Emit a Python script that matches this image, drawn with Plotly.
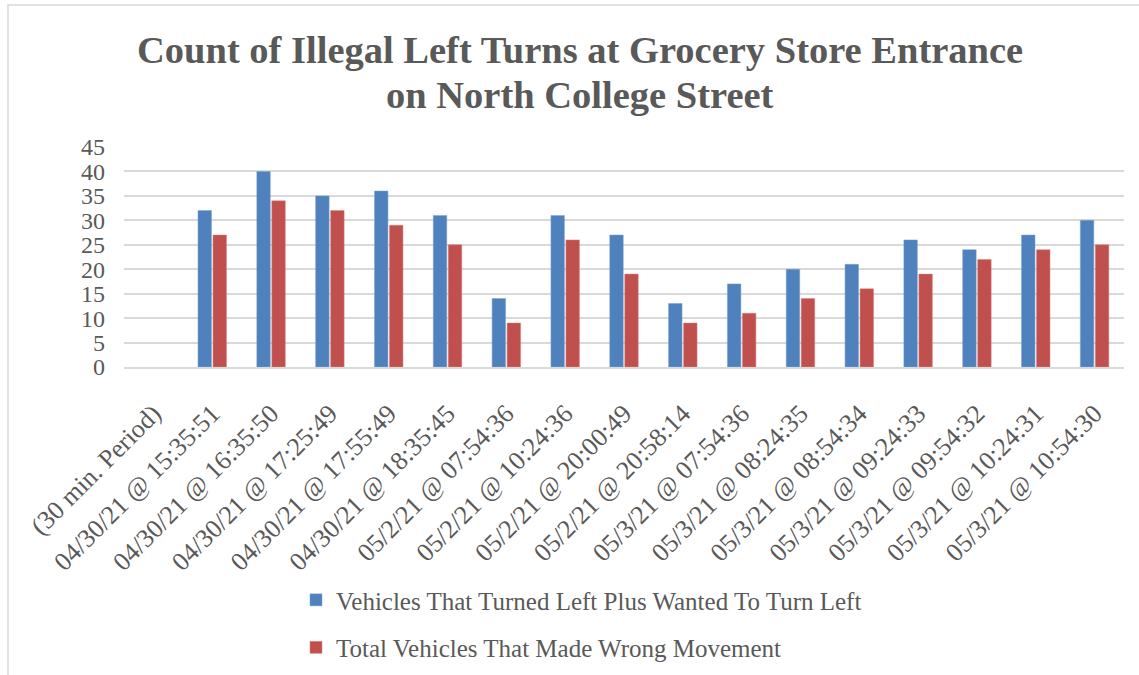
import plotly.graph_objects as go

categories = ["(30 min. Period)", "04/30/21 @ 15:35:51", "04/30/21 @ 16:35:50", "04/30/21 @ 17:25:49",
              "04/30/21 @ 17:55:49", "04/30/21 @ 18:35:45", "05/2/21 @ 07:54:36", "05/2/21 @ 10:24:36",
              "05/2/21 @ 20:00:49", "05/2/21 @ 20:58:14", "05/3/21 @ 07:54:36", "05/3/21 @ 08:24:35",
              "05/3/21 @ 08:54:34", "05/3/21 @ 09:24:33", "05/3/21 @ 09:54:32", "05/3/21 @ 10:24:31",
              "05/3/21 @ 10:54:30"]
turned_or_wanted = [None, 32, 40, 35, 36, 31, 14, 31, 27, 13, 17, 20, 21, 26, 24, 27, 30]
wrong_movement = [None, 27, 34, 32, 29, 25, 9, 26, 19, 9, 11, 14, 16, 19, 22, 24, 25]
y_ticks = [0, 5, 10, 15, 20, 25, 30, 35, 40, 45]
title_lines = ["Count of Illegal Left Turns at Grocery Store Entrance", "on North College Street"]

FONT = "Liberation Serif"
TXT = "#595959"
GRID = "#D9D9D9"

fig = go.Figure()
fig.add_trace(go.Bar(x=categories, y=turned_or_wanted, name="Vehicles That Turned Left Plus Wanted To Turn Left",
                     marker=dict(color="#4F81BD", line=dict(color="#7FA3D0", width=0.5)), legendgroup="a"))
fig.add_trace(go.Bar(x=categories, y=wrong_movement, name="Total Vehicles That Made Wrong Movement",
                     marker=dict(color="#C0504D", line=dict(color="#D88380", width=0.5)), legendgroup="b"))

# title as two centred lines
fig.add_annotation(text=title_lines[0], xref="paper", yref="paper", x=0.456, y=(367 - 50) / 220,
                   xanchor="center", yanchor="middle", showarrow=False,
                   font=dict(family=FONT, size=38.5, color=TXT, weight="bold"))
fig.add_annotation(text=title_lines[1], xref="paper", yref="paper", x=0.456, y=(367 - 95) / 220,
                   xanchor="center", yanchor="middle", showarrow=False,
                   font=dict(family=FONT, size=38.5, color=TXT, weight="bold"))

# chart-area border
fig.add_shape(type="rect", xref="paper", yref="paper", x0=(8 - 124) / 1000, x1=(1150 - 124) / 1000,
              y0=(367 - 5) / 220, y1=(367 - 690) / 220, line=dict(color=GRID, width=1.5),
              fillcolor="rgba(0,0,0,0)", layer="below")

fig.update_layout(
    width=1139, height=675,
    paper_bgcolor="white", plot_bgcolor="white",
    margin=dict(l=124, r=15, t=147, b=308, autoexpand=False),
    font=dict(family=FONT, color=TXT, size=20),
    barmode="group", bargap=0.49, bargroupgap=0.1,
    showlegend=True,
    legend=dict(orientation="v", x=0.172, xanchor="left", y=-0.955, yanchor="top",
                font=dict(family=FONT, size=25, color=TXT), tracegroupgap=12,
                itemwidth=30),
    xaxis=dict(tickangle=-45, tickfont=dict(family=FONT, size=26, color=TXT), showline=True,
               linecolor=GRID, linewidth=2, ticks="", showgrid=False, ticklabelstandoff=19),
    yaxis=dict(range=[0, 45], tickvals=y_ticks, tickfont=dict(family=FONT, size=24, color=TXT),
               showgrid=True, gridcolor=GRID, gridwidth=1.5, zeroline=False, ticks="",
               ticklabelstandoff=18),
)
fig.write_html("out.html", config={"displayModeBar": False})

with open("out.html", "r", encoding="utf-8") as f:
    html = f.read()
html = html.replace("<head>", "<head><style>html,body{margin:0;padding:0;}</style>", 1)
with open("out.html", "w", encoding="utf-8") as f:
    f.write(html)
